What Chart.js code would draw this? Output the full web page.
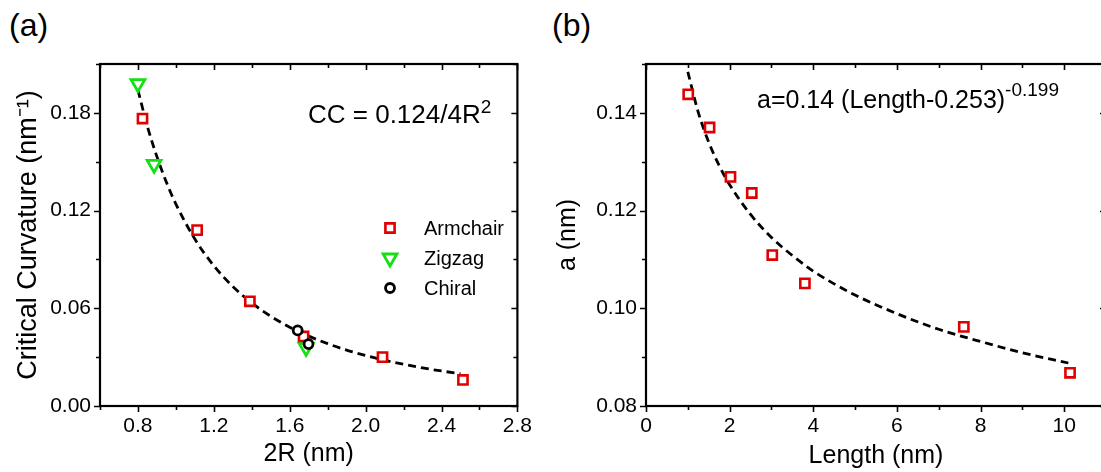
<!DOCTYPE html>
<html>
<head>
<meta charset="utf-8">
<title>Critical curvature and a vs length</title>
<script src="https://cdn.jsdelivr.net/npm/chart.js@4.4.0/dist/chart.umd.min.js"></script>
<style>
  html, body { margin: 0; padding: 0; background: #fff; overflow: hidden; }
  body { width: 1101px; height: 472px; position: relative; font-family: "Liberation Sans", Arial, sans-serif; }
  .panel { position: absolute; top: 0; }
  .tag { position: absolute; top: 7px; font-size: 32px; color: #000; }
</style>
</head>
<body>
<div class="tag" style="left:9px">(a)</div>
<div class="tag" style="left:552px">(b)</div>
<canvas id="chartA" class="panel" style="left:0" width="540" height="472"></canvas>
<canvas id="chartB" class="panel" style="left:540px" width="580" height="472"></canvas>
<script>
// (a) critical curvature against tube diameter 2R
const armchairD  = [0.824, 1.112, 1.390, 1.673, 2.089, 2.513];
const armchairCC = [0.1765, 0.108, 0.0643, 0.0427, 0.030, 0.016];
const zigzagD    = [0.800, 0.885, 1.686];
const zigzagCC   = [0.198, 0.1484, 0.036];
const chiralD    = [1.642, 1.699];
const chiralCC   = [0.0464, 0.038];
// dashed fit curve, CC = 0.124/4R^2
const fitD  = [0.80, 0.85, 0.90, 0.95, 1.00, 1.10, 1.20, 1.30, 1.40, 1.50, 1.60, 1.70, 1.80, 1.90, 2.00, 2.10, 2.20, 2.30, 2.40, 2.50];
const fitCC = [0.194, 0.1716, 0.1531, 0.1374, 0.124, 0.1025, 0.0861, 0.0734, 0.0633, 0.0551, 0.0484, 0.0429, 0.0383, 0.0343, 0.031, 0.0281, 0.0256, 0.0234, 0.0215, 0.0198];

// (b) a against length
const lengths = [1.01, 1.52, 2.02, 2.53, 3.02, 3.80, 7.60, 10.14];
const aValues = [0.1438, 0.137, 0.1269, 0.1236, 0.1109, 0.1051, 0.0962, 0.0868];
// dashed fit curve, a = 0.14 (Length-0.253)^-0.199
const fitL = [1.0, 1.25, 1.5, 1.75, 2.0, 2.5, 3.0, 3.5, 4.0, 4.5, 5.0, 6.0, 7.0, 8.0, 9.0, 10.1];
const fitA = [0.1484, 0.1401, 0.134, 0.1292, 0.1253, 0.1192, 0.1145, 0.1108, 0.1076, 0.105, 0.1027, 0.0989, 0.0957, 0.0932, 0.0909, 0.0888];

const FONT = '"Liberation Sans", Arial, sans-serif';
const RED = '#e00000';
const GREEN = '#14e014';

const pts = (xs, ys) => xs.map((x, i) => ({x, y: ys[i]}));

// box frame with major/minor ticks: out on bottom/left, in on top/right
const frameTicks = {
  id: 'frameTicks',
  afterDraw(chart, args, opts) {
    const {ctx, chartArea: a, scales: {x, y}} = chart;
    const steps = (min, max, step) => {
      const out = [];
      for (let k = Math.ceil(min / step - 1e-6); k * step <= max + 1e-9; k++) out.push(k * step);
      return out;
    };
    const isMajor = (scale, v) => scale.ticks.some(t => Math.abs(t.value - v) < 1e-7);
    ctx.save();
    ctx.strokeStyle = '#000';
    ctx.lineWidth = 1.6;
    ctx.beginPath();
    steps(x.min, x.max, opts.minorX).forEach(v => {
      const px = Math.round(x.getPixelForValue(v)) + 0.5;
      const len = isMajor(x, v) ? 6 : 4;
      ctx.moveTo(px, a.bottom); ctx.lineTo(px, a.bottom + len);
      ctx.moveTo(px, a.top); ctx.lineTo(px, a.top + len);
    });
    steps(y.min, y.max, opts.minorY).forEach(v => {
      const py = Math.round(y.getPixelForValue(v)) + 0.5;
      const len = isMajor(y, v) ? 6 : 4;
      ctx.moveTo(a.left, py); ctx.lineTo(a.left - len, py);
      ctx.moveTo(a.right, py); ctx.lineTo(a.right - len, py);
    });
    ctx.stroke();
    ctx.lineWidth = 2.2;
    ctx.strokeRect(a.left, a.top, a.right - a.left, a.bottom - a.top);
    ctx.restore();
  }
};

// equation text and in-plot legend
const notes = {
  id: 'notes',
  afterDraw(chart, args, opts) {
    const {ctx, chartArea: a} = chart;
    ctx.save();
    ctx.fillStyle = '#000';
    ctx.textBaseline = 'alphabetic';
    ctx.textAlign = 'left';
    (opts.equation || []).forEach(line => {
      let cx = a.left + line.dx;
      line.runs.forEach(r => {
        ctx.font = r.font;
        ctx.fillText(r.text, cx, a.top + line.dy + (r.rise || 0));
        cx += ctx.measureText(r.text).width;
      });
    });
    const L = opts.legend;
    if (L) {
      L.items.forEach((idx, k) => {
        const ds = chart.data.datasets[idx];
        const px = a.left + L.dx;
        const py = a.top + L.dy + k * L.gap;
        ctx.strokeStyle = ds.borderColor;
        ctx.fillStyle = ds.backgroundColor;
        ctx.lineWidth = ds.borderWidth;
        Chart.helpers.drawPoint(ctx, {
          pointStyle: ds.pointStyle,
          rotation: ds.pointRotation || 0,
          radius: ds.pointRadius,
          borderWidth: ds.borderWidth
        }, px, py);
        ctx.fillStyle = '#000';
        ctx.font = L.font;
        ctx.textBaseline = 'middle';
        ctx.fillText(ds.label, px + L.textGap, py + 1);
      });
    }
    ctx.restore();
  }
};

function axis(opts) {
  return {
    type: 'linear',
    position: opts.position,
    min: opts.min,
    max: opts.max,
    grid: { display: false, drawTicks: false },
    border: { display: false },
    ticks: {
      stepSize: opts.step,
      includeBounds: false,
      autoSkip: false,
      maxRotation: 0,
      padding: opts.pad,
      color: '#000',
      font: { family: FONT, size: 21 },
      callback: opts.fmt
    },
    title: {
      display: true,
      text: opts.title,
      color: '#000',
      font: { family: FONT, size: opts.titleSize || 25 },
      padding: opts.titlePad
    },
    afterFit: opts.fit
  };
}

const common = {
  responsive: false,
  animation: false,
  devicePixelRatio: 1,
  events: [],
  plugins: { legend: { display: false }, tooltip: { enabled: false } }
};

function fitLine(data) {
  return {
    label: 'fit',
    data,
    showLine: true,
    borderColor: '#000',
    borderWidth: 2.8,
    borderDash: [8, 5],
    pointRadius: 0,
    cubicInterpolationMode: 'monotone'
  };
}

function markers(label, data, style, color, radius, width, rotation) {
  return {
    label,
    data,
    pointStyle: style,
    pointRotation: rotation || 0,
    pointRadius: radius,
    borderWidth: width,
    borderColor: color,
    backgroundColor: '#fff',
    showLine: false
  };
}

new Chart(document.getElementById('chartA'), {
  type: 'scatter',
  data: {
    datasets: [
      markers('Chiral', pts(chiralD, chiralCC), 'circle', '#000', 4.5, 2.8),
      markers('Armchair', pts(armchairD, armchairCC), 'rect', RED, 6.5, 2.6),
      markers('Zigzag', pts(zigzagD, zigzagCC), 'triangle', GREEN, 8, 2.8, 180),
      fitLine(pts(fitD, fitCC))
    ]
  },
  options: {
    ...common,
    layout: { padding: { top: 64, right: 21, bottom: 0, left: 0 } },
    scales: {
      x: axis({ position: 'bottom', min: 0.6, max: 2.8, step: 0.4, pad: 8,
                fmt: v => v.toFixed(1), title: '2R (nm)', titlePad: { top: 0, bottom: 3 },
                fit: s => { s.height = 66; } }),
      y: axis({ position: 'left', min: 0, max: 0.21, step: 0.06, pad: 9,
                fmt: v => v.toFixed(2), title: 'Critical Curvature (nm\u207B\u00B9)', titleSize: 27,
                titlePad: { top: 12, bottom: 0 },
                fit: s => { s.width = 100; } })
    },
    plugins: {
      ...common.plugins,
      frameTicks: { minorX: 0.2, minorY: 0.03 },
      notes: {
        equation: [{ dx: 208, dy: 59, runs: [
          { text: 'CC = 0.124/4R', font: '26px ' + FONT },
          { text: '2', font: '19px ' + FONT, rise: -10 }
        ] }],
        legend: { items: [1, 2, 0], dx: 290, dy: 164, gap: 30, textGap: 34, font: '20px ' + FONT }
      }
    }
  },
  plugins: [frameTicks, notes]
});

new Chart(document.getElementById('chartB'), {
  type: 'scatter',
  data: {
    datasets: [
      markers('a', pts(lengths, aValues), 'rect', RED, 6.5, 2.6),
      fitLine(pts(fitL, fitA))
    ]
  },
  options: {
    ...common,
    layout: { padding: { top: 64, right: 14, bottom: 0, left: 0 } },
    scales: {
      x: axis({ position: 'bottom', min: 0, max: 11, step: 2, pad: 8,
                fmt: v => String(v), title: 'Length (nm)', titlePad: { top: 0, bottom: 1 },
                fit: s => { s.height = 66; } }),
      y: axis({ position: 'left', min: 0.08, max: 0.15, step: 0.02, pad: 9,
                fmt: v => v.toFixed(2), title: 'a (nm)', titlePad: { top: 13, bottom: 0 },
                fit: s => { s.width = 106; } })
    },
    plugins: {
      ...common.plugins,
      frameTicks: { minorX: 1, minorY: 0.01 },
      notes: {
        equation: [{ dx: 111, dy: 44, runs: [
          { text: 'a=0.14 (Length-0.253)', font: '25px ' + FONT },
          { text: '-0.199', font: '19px ' + FONT, rise: -12 }
        ] }]
      }
    }
  },
  plugins: [frameTicks, notes]
});
</script>
</body>
</html>
